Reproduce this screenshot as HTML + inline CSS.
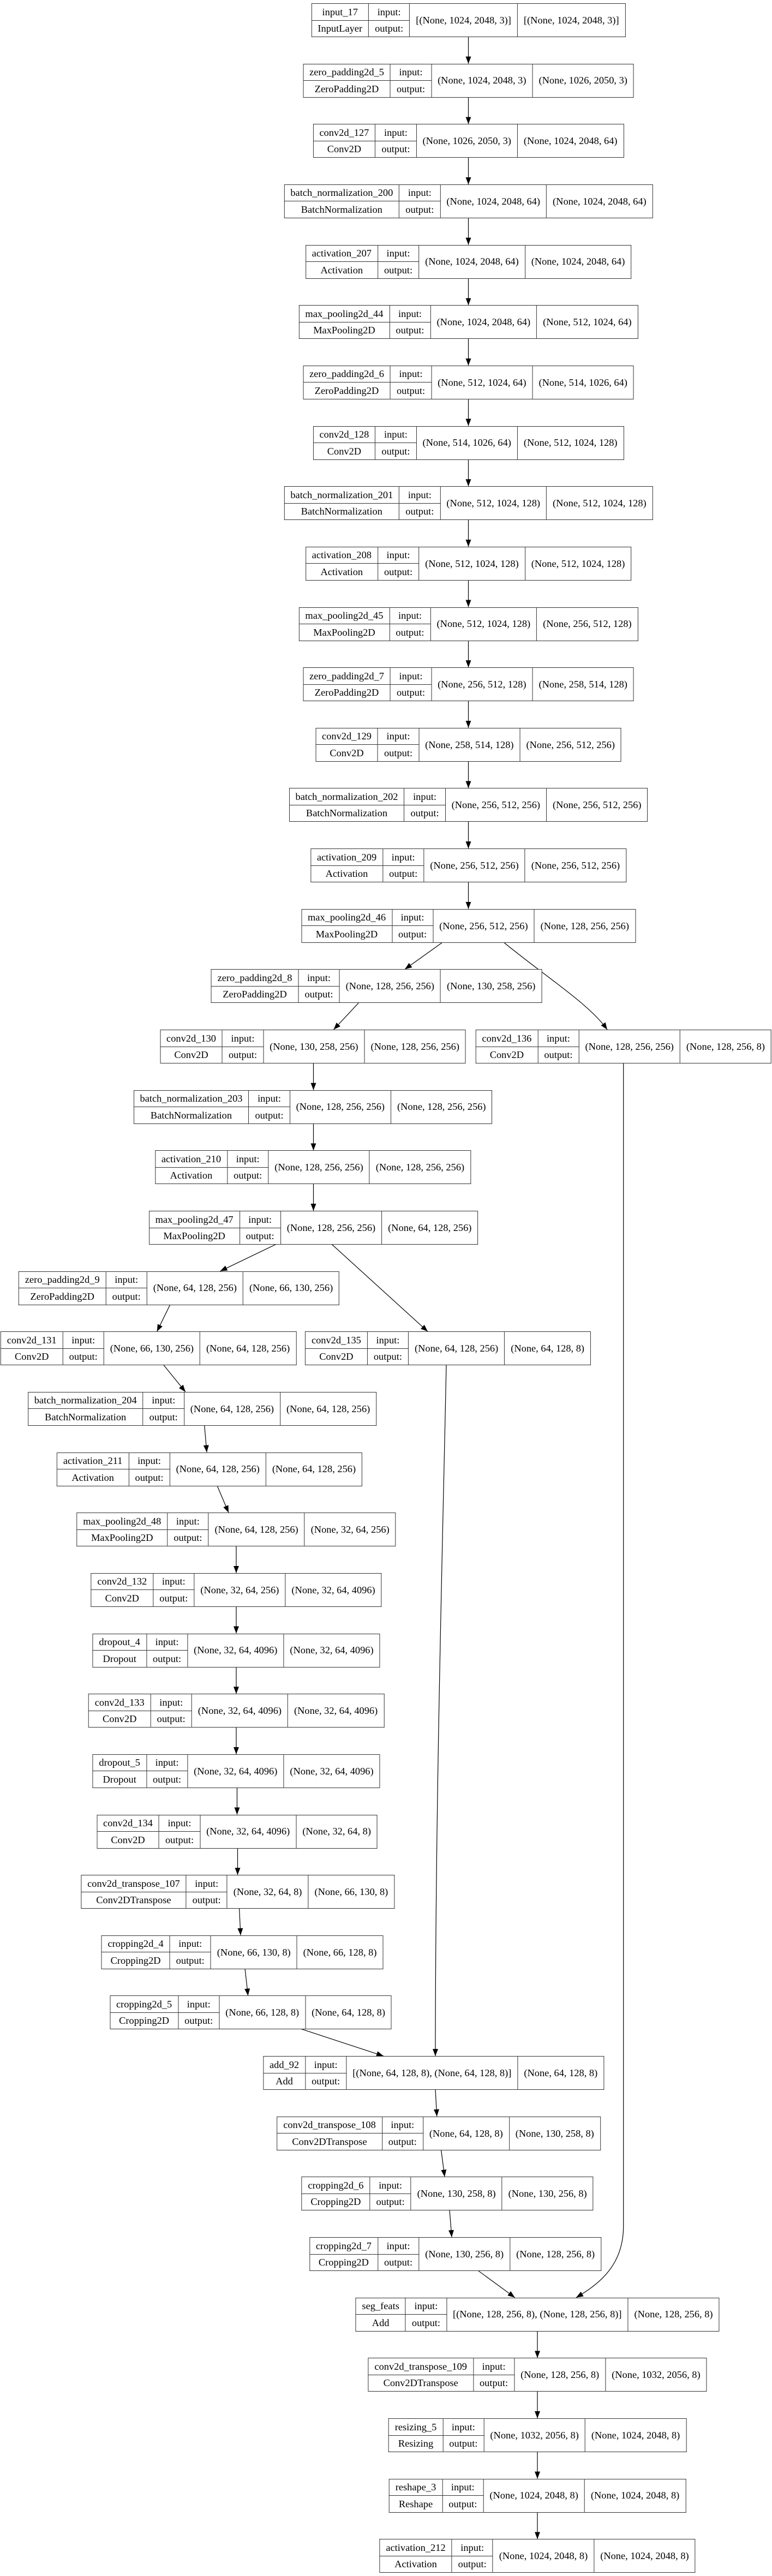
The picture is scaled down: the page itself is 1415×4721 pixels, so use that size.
<!DOCTYPE html>
<html><head><meta charset="utf-8"><style>
html,body{margin:0;padding:0;background:#fff}
body{width:1415px;height:4721px;position:relative;overflow:hidden}
svg{position:absolute;left:0;top:0}
.n{position:absolute;transform:translateX(-50%);border-collapse:collapse;font:18.4px "Liberation Serif","Times New Roman",serif;background:#fff;color:#000}
.n td{border:1px solid #333;padding:0 11px;height:29.5px;white-space:nowrap;text-align:center;line-height:1}
</style></head><body>
<svg width="1415" height="4721" viewBox="0 0 1415 4721">
<defs><marker id="a" markerUnits="userSpaceOnUse" markerWidth="14" markerHeight="11" refX="13" refY="5" orient="auto"><path d="M0,0 L13,5 L0,10 z" fill="#000"/></marker></defs>
<g fill="none" stroke="#000" stroke-width="1.2" marker-end="url(#a)">
<path d="M858.5,67 L858.5,116.65"/>
<path d="M858.5,177.65 L858.5,227.3"/>
<path d="M858.5,288.3 L858.5,337.95"/>
<path d="M858.5,398.95 L858.5,448.6"/>
<path d="M858.5,509.6 L858.5,559.25"/>
<path d="M858.5,620.25 L858.5,669.9"/>
<path d="M858.5,730.9 L858.5,780.55"/>
<path d="M858.5,841.55 L858.5,891.2"/>
<path d="M858.5,952.2 L858.5,1001.85"/>
<path d="M858.5,1062.85 L858.5,1112.5"/>
<path d="M858.5,1173.5 L858.5,1223.15"/>
<path d="M858.5,1284.15 L858.5,1333.8"/>
<path d="M858.5,1394.8 L858.5,1444.45"/>
<path d="M858.5,1505.45 L858.5,1555.1"/>
<path d="M858.5,1616.1 L858.5,1665.75"/>
<path d="M811.4,1726.75 L742,1776.4"/>
<path d="M923,1726.75 C1000,1790 1080,1840 1113,1887"/>
<path d="M657.8,1837.4 L611.5,1887"/>
<path d="M574.5,1948 L574.5,1997.7"/>
<path d="M574.5,2058.7 L574.5,2108.35"/>
<path d="M574.5,2169.35 L574.5,2219"/>
<path d="M506.7,2280 L403.5,2329.65"/>
<path d="M607.7,2280 L784,2440.3"/>
<path d="M312,2390.65 L287.7,2440.3"/>
<path d="M299.6,2501.3 L340,2550.95"/>
<path d="M374.7,2611.95 L379,2661.6"/>
<path d="M398,2722.6 L419,2772.25"/>
<path d="M433,2833.25 L433,2882.9"/>
<path d="M433,2943.9 L433,2993.55"/>
<path d="M433,3054.55 L433,3104.2"/>
<path d="M433,3165.2 L433,3214.85"/>
<path d="M434.5,3275.85 L434.5,3325.5"/>
<path d="M435.5,3386.5 L435.5,3436.15"/>
<path d="M438.6,3497.15 L441,3546.8"/>
<path d="M449,3607.8 L454.6,3657.45"/>
<path d="M552,3718.45 L703,3768.1"/>
<path d="M818,2501.3 C812,2800 798,3300 798,3768.1"/>
<path d="M798,3829.1 L800.7,3878.75"/>
<path d="M808.5,3939.75 L815,3989.4"/>
<path d="M824,4050.4 L828,4100.05"/>
<path d="M876,4161.05 L943.7,4210.7"/>
<path d="M1142.7,1948 L1142.7,4080 C1142.7,4150 1100,4185 1056,4210.7"/>
<path d="M985,4271.7 L985,4321.35"/>
<path d="M985,4382.35 L985,4432"/>
<path d="M985,4493 L985,4542.65"/>
<path d="M985,4603.65 L985,4653.3"/>
</g>
</svg>

<table class="n" style="left:858.5px;top:6px"><tr><td>input_17</td><td>input:</td><td rowspan="2">[(None, 1024, 2048, 3)]</td><td rowspan="2">[(None, 1024, 2048, 3)]</td></tr><tr><td>InputLayer</td><td>output:</td></tr></table>
<table class="n" style="left:858.5px;top:116.65px"><tr><td>zero_padding2d_5</td><td>input:</td><td rowspan="2">(None, 1024, 2048, 3)</td><td rowspan="2">(None, 1026, 2050, 3)</td></tr><tr><td>ZeroPadding2D</td><td>output:</td></tr></table>
<table class="n" style="left:858.5px;top:227.3px"><tr><td>conv2d_127</td><td>input:</td><td rowspan="2">(None, 1026, 2050, 3)</td><td rowspan="2">(None, 1024, 2048, 64)</td></tr><tr><td>Conv2D</td><td>output:</td></tr></table>
<table class="n" style="left:858.5px;top:337.95px"><tr><td>batch_normalization_200</td><td>input:</td><td rowspan="2">(None, 1024, 2048, 64)</td><td rowspan="2">(None, 1024, 2048, 64)</td></tr><tr><td>BatchNormalization</td><td>output:</td></tr></table>
<table class="n" style="left:858.5px;top:448.6px"><tr><td>activation_207</td><td>input:</td><td rowspan="2">(None, 1024, 2048, 64)</td><td rowspan="2">(None, 1024, 2048, 64)</td></tr><tr><td>Activation</td><td>output:</td></tr></table>
<table class="n" style="left:858.5px;top:559.25px"><tr><td>max_pooling2d_44</td><td>input:</td><td rowspan="2">(None, 1024, 2048, 64)</td><td rowspan="2">(None, 512, 1024, 64)</td></tr><tr><td>MaxPooling2D</td><td>output:</td></tr></table>
<table class="n" style="left:858.5px;top:669.9px"><tr><td>zero_padding2d_6</td><td>input:</td><td rowspan="2">(None, 512, 1024, 64)</td><td rowspan="2">(None, 514, 1026, 64)</td></tr><tr><td>ZeroPadding2D</td><td>output:</td></tr></table>
<table class="n" style="left:858.5px;top:780.55px"><tr><td>conv2d_128</td><td>input:</td><td rowspan="2">(None, 514, 1026, 64)</td><td rowspan="2">(None, 512, 1024, 128)</td></tr><tr><td>Conv2D</td><td>output:</td></tr></table>
<table class="n" style="left:858.5px;top:891.2px"><tr><td>batch_normalization_201</td><td>input:</td><td rowspan="2">(None, 512, 1024, 128)</td><td rowspan="2">(None, 512, 1024, 128)</td></tr><tr><td>BatchNormalization</td><td>output:</td></tr></table>
<table class="n" style="left:858.5px;top:1001.85px"><tr><td>activation_208</td><td>input:</td><td rowspan="2">(None, 512, 1024, 128)</td><td rowspan="2">(None, 512, 1024, 128)</td></tr><tr><td>Activation</td><td>output:</td></tr></table>
<table class="n" style="left:858.5px;top:1112.5px"><tr><td>max_pooling2d_45</td><td>input:</td><td rowspan="2">(None, 512, 1024, 128)</td><td rowspan="2">(None, 256, 512, 128)</td></tr><tr><td>MaxPooling2D</td><td>output:</td></tr></table>
<table class="n" style="left:858.5px;top:1223.15px"><tr><td>zero_padding2d_7</td><td>input:</td><td rowspan="2">(None, 256, 512, 128)</td><td rowspan="2">(None, 258, 514, 128)</td></tr><tr><td>ZeroPadding2D</td><td>output:</td></tr></table>
<table class="n" style="left:858.5px;top:1333.8px"><tr><td>conv2d_129</td><td>input:</td><td rowspan="2">(None, 258, 514, 128)</td><td rowspan="2">(None, 256, 512, 256)</td></tr><tr><td>Conv2D</td><td>output:</td></tr></table>
<table class="n" style="left:858.5px;top:1444.45px"><tr><td>batch_normalization_202</td><td>input:</td><td rowspan="2">(None, 256, 512, 256)</td><td rowspan="2">(None, 256, 512, 256)</td></tr><tr><td>BatchNormalization</td><td>output:</td></tr></table>
<table class="n" style="left:858.5px;top:1555.1px"><tr><td>activation_209</td><td>input:</td><td rowspan="2">(None, 256, 512, 256)</td><td rowspan="2">(None, 256, 512, 256)</td></tr><tr><td>Activation</td><td>output:</td></tr></table>
<table class="n" style="left:858.5px;top:1665.75px"><tr><td>max_pooling2d_46</td><td>input:</td><td rowspan="2">(None, 256, 512, 256)</td><td rowspan="2">(None, 128, 256, 256)</td></tr><tr><td>MaxPooling2D</td><td>output:</td></tr></table>
<table class="n" style="left:690px;top:1776.4px"><tr><td>zero_padding2d_8</td><td>input:</td><td rowspan="2">(None, 128, 256, 256)</td><td rowspan="2">(None, 130, 258, 256)</td></tr><tr><td>ZeroPadding2D</td><td>output:</td></tr></table>
<table class="n" style="left:573.5px;top:1887.05px"><tr><td>conv2d_130</td><td>input:</td><td rowspan="2">(None, 130, 258, 256)</td><td rowspan="2">(None, 128, 256, 256)</td></tr><tr><td>Conv2D</td><td>output:</td></tr></table>
<table class="n" style="left:1142.7px;top:1887.05px"><tr><td>conv2d_136</td><td>input:</td><td rowspan="2">(None, 128, 256, 256)</td><td rowspan="2">(None, 128, 256, 8)</td></tr><tr><td>Conv2D</td><td>output:</td></tr></table>
<table class="n" style="left:573.5px;top:1997.7px"><tr><td>batch_normalization_203</td><td>input:</td><td rowspan="2">(None, 128, 256, 256)</td><td rowspan="2">(None, 128, 256, 256)</td></tr><tr><td>BatchNormalization</td><td>output:</td></tr></table>
<table class="n" style="left:573.5px;top:2108.35px"><tr><td>activation_210</td><td>input:</td><td rowspan="2">(None, 128, 256, 256)</td><td rowspan="2">(None, 128, 256, 256)</td></tr><tr><td>Activation</td><td>output:</td></tr></table>
<table class="n" style="left:574.5px;top:2219px"><tr><td>max_pooling2d_47</td><td>input:</td><td rowspan="2">(None, 128, 256, 256)</td><td rowspan="2">(None, 64, 128, 256)</td></tr><tr><td>MaxPooling2D</td><td>output:</td></tr></table>
<table class="n" style="left:328px;top:2329.65px"><tr><td>zero_padding2d_9</td><td>input:</td><td rowspan="2">(None, 64, 128, 256)</td><td rowspan="2">(None, 66, 130, 256)</td></tr><tr><td>ZeroPadding2D</td><td>output:</td></tr></table>
<table class="n" style="left:272px;top:2440.3px"><tr><td>conv2d_131</td><td>input:</td><td rowspan="2">(None, 66, 130, 256)</td><td rowspan="2">(None, 64, 128, 256)</td></tr><tr><td>Conv2D</td><td>output:</td></tr></table>
<table class="n" style="left:821px;top:2440.3px"><tr><td>conv2d_135</td><td>input:</td><td rowspan="2">(None, 64, 128, 256)</td><td rowspan="2">(None, 64, 128, 8)</td></tr><tr><td>Conv2D</td><td>output:</td></tr></table>
<table class="n" style="left:370.5px;top:2550.95px"><tr><td>batch_normalization_204</td><td>input:</td><td rowspan="2">(None, 64, 128, 256)</td><td rowspan="2">(None, 64, 128, 256)</td></tr><tr><td>BatchNormalization</td><td>output:</td></tr></table>
<table class="n" style="left:384px;top:2661.6px"><tr><td>activation_211</td><td>input:</td><td rowspan="2">(None, 64, 128, 256)</td><td rowspan="2">(None, 64, 128, 256)</td></tr><tr><td>Activation</td><td>output:</td></tr></table>
<table class="n" style="left:433px;top:2772.25px"><tr><td>max_pooling2d_48</td><td>input:</td><td rowspan="2">(None, 64, 128, 256)</td><td rowspan="2">(None, 32, 64, 256)</td></tr><tr><td>MaxPooling2D</td><td>output:</td></tr></table>
<table class="n" style="left:433px;top:2882.9px"><tr><td>conv2d_132</td><td>input:</td><td rowspan="2">(None, 32, 64, 256)</td><td rowspan="2">(None, 32, 64, 4096)</td></tr><tr><td>Conv2D</td><td>output:</td></tr></table>
<table class="n" style="left:433px;top:2993.55px"><tr><td>dropout_4</td><td>input:</td><td rowspan="2">(None, 32, 64, 4096)</td><td rowspan="2">(None, 32, 64, 4096)</td></tr><tr><td>Dropout</td><td>output:</td></tr></table>
<table class="n" style="left:433px;top:3104.2px"><tr><td>conv2d_133</td><td>input:</td><td rowspan="2">(None, 32, 64, 4096)</td><td rowspan="2">(None, 32, 64, 4096)</td></tr><tr><td>Conv2D</td><td>output:</td></tr></table>
<table class="n" style="left:433px;top:3214.85px"><tr><td>dropout_5</td><td>input:</td><td rowspan="2">(None, 32, 64, 4096)</td><td rowspan="2">(None, 32, 64, 4096)</td></tr><tr><td>Dropout</td><td>output:</td></tr></table>
<table class="n" style="left:434.5px;top:3325.5px"><tr><td>conv2d_134</td><td>input:</td><td rowspan="2">(None, 32, 64, 4096)</td><td rowspan="2">(None, 32, 64, 8)</td></tr><tr><td>Conv2D</td><td>output:</td></tr></table>
<table class="n" style="left:435.7px;top:3436.15px"><tr><td>conv2d_transpose_107</td><td>input:</td><td rowspan="2">(None, 32, 64, 8)</td><td rowspan="2">(None, 66, 130, 8)</td></tr><tr><td>Conv2DTranspose</td><td>output:</td></tr></table>
<table class="n" style="left:444px;top:3546.8px"><tr><td>cropping2d_4</td><td>input:</td><td rowspan="2">(None, 66, 130, 8)</td><td rowspan="2">(None, 66, 128, 8)</td></tr><tr><td>Cropping2D</td><td>output:</td></tr></table>
<table class="n" style="left:459.5px;top:3657.45px"><tr><td>cropping2d_5</td><td>input:</td><td rowspan="2">(None, 66, 128, 8)</td><td rowspan="2">(None, 64, 128, 8)</td></tr><tr><td>Cropping2D</td><td>output:</td></tr></table>
<table class="n" style="left:794.6px;top:3768.1px"><tr><td>add_92</td><td>input:</td><td rowspan="2">[(None, 64, 128, 8), (None, 64, 128, 8)]</td><td rowspan="2">(None, 64, 128, 8)</td></tr><tr><td>Add</td><td>output:</td></tr></table>
<table class="n" style="left:804px;top:3878.75px"><tr><td>conv2d_transpose_108</td><td>input:</td><td rowspan="2">(None, 64, 128, 8)</td><td rowspan="2">(None, 130, 258, 8)</td></tr><tr><td>Conv2DTranspose</td><td>output:</td></tr></table>
<table class="n" style="left:820px;top:3989.4px"><tr><td>cropping2d_6</td><td>input:</td><td rowspan="2">(None, 130, 258, 8)</td><td rowspan="2">(None, 130, 256, 8)</td></tr><tr><td>Cropping2D</td><td>output:</td></tr></table>
<table class="n" style="left:834.5px;top:4100.05px"><tr><td>cropping2d_7</td><td>input:</td><td rowspan="2">(None, 130, 256, 8)</td><td rowspan="2">(None, 128, 256, 8)</td></tr><tr><td>Cropping2D</td><td>output:</td></tr></table>
<table class="n" style="left:985px;top:4210.7px"><tr><td>seg_feats</td><td>input:</td><td rowspan="2">[(None, 128, 256, 8), (None, 128, 256, 8)]</td><td rowspan="2">(None, 128, 256, 8)</td></tr><tr><td>Add</td><td>output:</td></tr></table>
<table class="n" style="left:985px;top:4321.35px"><tr><td>conv2d_transpose_109</td><td>input:</td><td rowspan="2">(None, 128, 256, 8)</td><td rowspan="2">(None, 1032, 2056, 8)</td></tr><tr><td>Conv2DTranspose</td><td>output:</td></tr></table>
<table class="n" style="left:985px;top:4432px"><tr><td>resizing_5</td><td>input:</td><td rowspan="2">(None, 1032, 2056, 8)</td><td rowspan="2">(None, 1024, 2048, 8)</td></tr><tr><td>Resizing</td><td>output:</td></tr></table>
<table class="n" style="left:985px;top:4542.65px"><tr><td>reshape_3</td><td>input:</td><td rowspan="2">(None, 1024, 2048, 8)</td><td rowspan="2">(None, 1024, 2048, 8)</td></tr><tr><td>Reshape</td><td>output:</td></tr></table>
<table class="n" style="left:985px;top:4653.3px"><tr><td>activation_212</td><td>input:</td><td rowspan="2">(None, 1024, 2048, 8)</td><td rowspan="2">(None, 1024, 2048, 8)</td></tr><tr><td>Activation</td><td>output:</td></tr></table>
</body></html>
